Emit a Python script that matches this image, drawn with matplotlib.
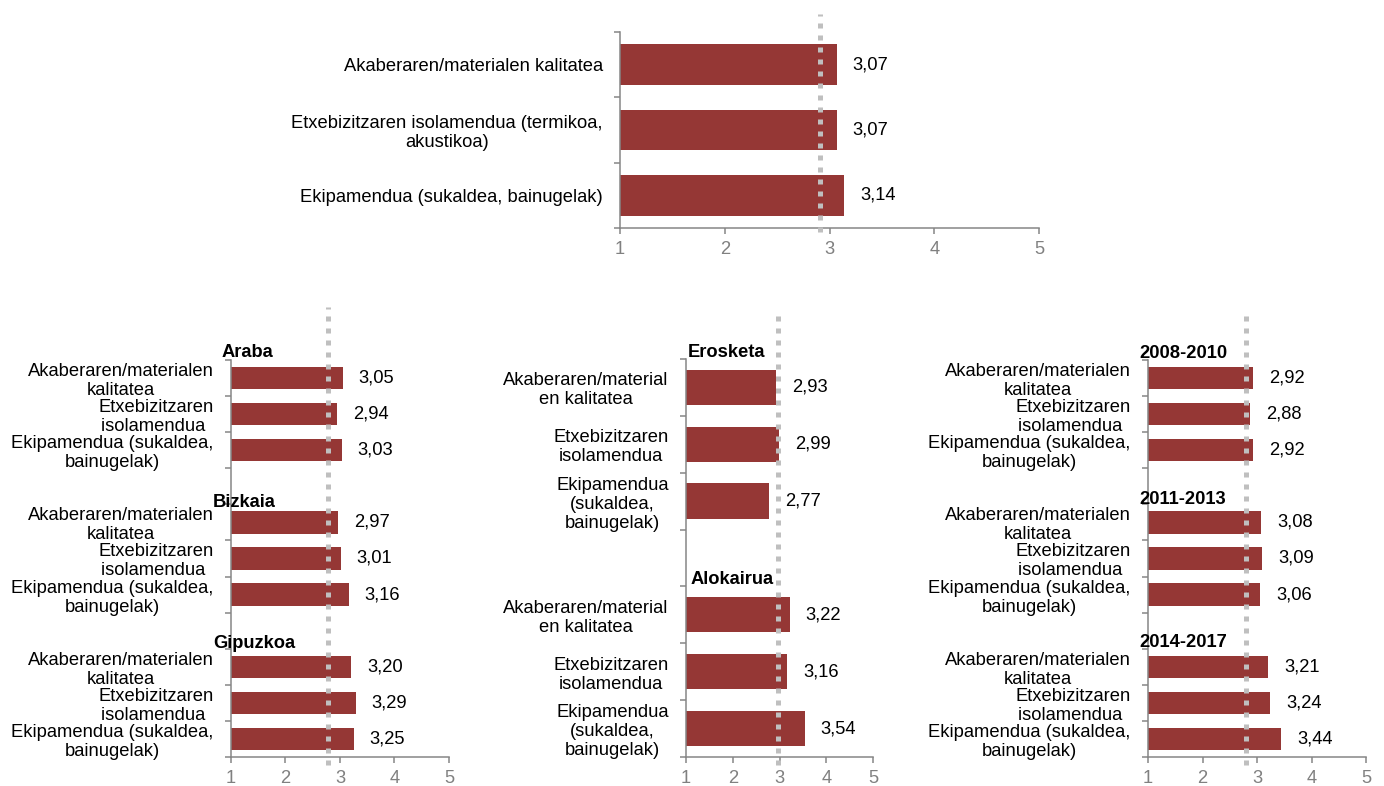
import numpy as np
import matplotlib
matplotlib.use("Agg")
import matplotlib.pyplot as plt

plt.rcParams["font.family"] = ["Liberation Sans", "DejaVu Sans"]
plt.rcParams["font.size"] = 13.2

BAR = "#953735"
GREY = "#868686"
DOTS = "#bfbfbf"

# item labels (three wrappings, one per panel width)
items_long = ["Akaberaren/materialen kalitatea",
              "Etxebizitzaren isolamendua (termikoa,\nakustikoa)",
              "Ekipamendua (sukaldea, bainugelak)"]
items_short = ["Akaberaren/materialen\nkalitatea",
               "Etxebizitzaren\nisolamendua ",
               "Ekipamendua (sukaldea,\nbainugelak)"]
items_narrow = ["Akaberaren/material\nen kalitatea",
                "Etxebizitzaren\nisolamendua",
                "Ekipamendua\n(sukaldea,\nbainugelak)"]

# overall scores
total = [3.07, 3.07, 3.14]
mean_total = 2.91

# by territory
territories = ["Araba", "Bizkaia", "Gipuzkoa"]
araba = [3.05, 2.94, 3.03]
bizkaia = [2.97, 3.01, 3.16]
gipuzkoa = [3.20, 3.29, 3.25]
mean_territory = 2.78

# by tenure
tenures = ["Erosketa", "Alokairua"]
erosketa = [2.93, 2.99, 2.77]
alokairua = [3.22, 3.16, 3.54]
mean_tenure = 2.97

# by period
periods = ["2008-2010", "2011-2013", "2014-2017"]
p2008 = [2.92, 2.88, 2.92]
p2011 = [3.08, 3.09, 3.06]
p2014 = [3.21, 3.24, 3.44]
mean_period = 2.80


def fmt(v):
    return f"{v:.2f}".replace(".", ",")


def panel(ax, series, items, mean, names=(), name_offsets=(), dot_top=1.1):
    pos, vals, labels = [], [], []
    for g, vs in enumerate(series):
        for j, v in enumerate(vs):
            pos.append(g * 4 + j)
            vals.append(v)
            labels.append(items[j])
    n = pos[-1] + 1

    ax.barh(pos, vals, height=0.62, color=BAR, zorder=2)
    ax.set_xlim(1, 5)
    ax.set_ylim(n - 0.5, -0.5)

    ax.set_yticks(pos, labels)
    ax.set_yticks(np.arange(-0.5, n), minor=True)
    ax.tick_params(axis="y", which="major", length=0, pad=12.5)
    ax.tick_params(axis="y", which="minor", length=4, width=1.1, color=GREY)
    for lbl in ax.get_yticklabels():
        lbl.set_multialignment("center")
        lbl.set_linespacing(1.15)

    ax.set_xticks([1, 2, 3, 4, 5], ["1", "2", "3", "4", "5"])
    ax.tick_params(axis="x", length=4, width=1.1, color=GREY,
                   labelcolor="#808080", pad=5.5)

    for side in ("top", "right"):
        ax.spines[side].set_visible(False)
    for side in ("left", "bottom"):
        ax.spines[side].set_color(GREY)
        ax.spines[side].set_linewidth(1.1)

    for p, v in zip(pos, vals):
        ax.annotate(fmt(v), xy=(v, p), xytext=(11.5, 0),
                    textcoords="offset points", ha="left", va="center")

    for g, name in enumerate(names):
        dx, dy = name_offsets[g]
        ax.annotate(name, xy=(0, g * 4 - 0.5), xycoords=("axes fraction", "data"),
                    xytext=(dx, dy), textcoords="offset points",
                    ha="left", va="center", fontweight="bold", zorder=5)

    ax.plot([mean, mean], [-0.02, dot_top], transform=ax.get_xaxis_transform(),
            color=DOTS, lw=3.6, linestyle=(0, (1, 1.4)),
            dash_capstyle="butt", clip_on=False, zorder=4)


fig = plt.figure(figsize=(13.84, 7.86), dpi=100)

ax_top = fig.add_axes([0.448, 0.7099, 0.3027, 0.2494])
panel(ax_top, [total], items_long, mean_total, dot_top=1.09)

ax_ter = fig.add_axes([0.1669, 0.0369, 0.1575, 0.5051])
panel(ax_ter, [araba, bizkaia, gipuzkoa], items_short, mean_territory,
      territories, [(-6.5, 5.5), (-13, 1.5), (-13, 3.5)], dot_top=1.134)

ax_ten = fig.add_axes([0.4957, 0.0369, 0.1351, 0.5064])
panel(ax_ten, [erosketa, alokairua], items_narrow, mean_tenure,
      tenures, [(1.5, 4.5), (3, 5)], dot_top=1.118)

ax_per = fig.add_axes([0.8295, 0.0369, 0.1575, 0.5051])
panel(ax_per, [p2008, p2011, p2014], items_short, mean_period,
      periods, [(-6, 4.5), (-6, 3.5), (-6, 4.5)], dot_top=1.118)

fig.savefig("out.png", dpi=100)
